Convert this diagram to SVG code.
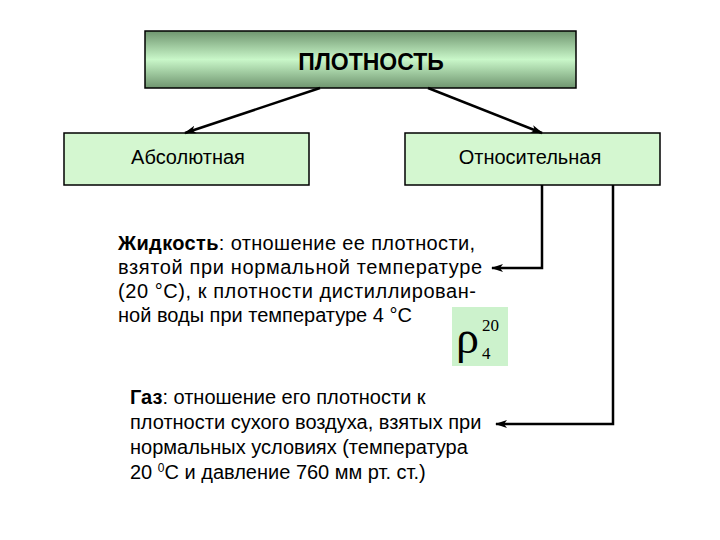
<svg xmlns="http://www.w3.org/2000/svg" width="720" height="540" viewBox="0 0 720 540">
<defs>
<linearGradient id="g" x1="0" y1="0" x2="0" y2="1">
<stop offset="0" stop-color="#6f956f"/>
<stop offset="0.5" stop-color="#c9f7c9"/>
<stop offset="1" stop-color="#6f956f"/>
</linearGradient>
<marker id="ah" markerUnits="userSpaceOnUse" markerWidth="12" markerHeight="10" refX="11" refY="5" orient="auto">
<path d="M0,1 L12,5 L0,9 L3,5 Z" fill="#000"/>
</marker>
<style>
.box{fill:#d4f7d0;stroke:#000;stroke-width:1.5}
.t{font-family:"Liberation Sans",Arial,sans-serif;fill:#000}
.c{fill:none;stroke:#000;stroke-width:2.5}
</style>
</defs>
<rect width="720" height="540" fill="#fff"/>
<g id="top">
<rect x="145" y="31" width="431" height="57" fill="url(#g)" stroke="#000" stroke-width="1.5"/>
<text class="t" x="371" y="70" font-size="23" font-weight="bold" text-anchor="middle">ПЛОТНОСТЬ</text>
</g>
<g id="abs">
<rect class="box" x="64" y="133" width="245" height="52"/>
<text class="t" x="188" y="164" font-size="20" text-anchor="middle">Абсолютная</text>
</g>
<g id="rel">
<rect class="box" x="405" y="133" width="255" height="52"/>
<text class="t" x="530" y="164" font-size="20" text-anchor="middle">Относительная</text>
</g>
<g id="liquid">
<text class="t" font-size="20">
<tspan x="118" y="250" textLength="357"><tspan font-weight="bold">Жидкость</tspan>: отношение ее плотности,</tspan>
<tspan x="118" y="274" textLength="364">взятой при нормальной температуре</tspan>
<tspan x="118" y="298" textLength="358">(20  °С), к плотности дистиллирован-</tspan>
<tspan x="118" y="322">ной воды при температуре 4 °С</tspan>
</text>
</g>
<g id="rho">
<rect x="452" y="307" width="56" height="59" fill="#ccf2cc"/>
<text x="456" y="353" font-family="Liberation Serif,serif" font-size="46">ρ</text>
<text x="482" y="331" font-family="Liberation Serif,serif" font-size="17">20</text>
<text x="482" y="359" font-family="Liberation Serif,serif" font-size="17">4</text>
</g>
<g id="gas">
<text class="t" font-size="20">
<tspan x="130" y="404"><tspan font-weight="bold">Газ</tspan>: отношение его плотности к</tspan>
<tspan x="130" y="429">плотности сухого воздуха, взятых при</tspan>
<tspan x="130" y="454">нормальных условиях (температура</tspan>
<tspan x="130" y="479">20 <tspan font-size="12" dy="-7">0</tspan><tspan dy="7">С и давление 760 мм рт. ст.)</tspan></tspan>
</text>
</g>
<g id="connectors">
<line class="c" x1="320" y1="88" x2="185" y2="133" marker-end="url(#ah)"/>
<line class="c" x1="428" y1="88" x2="542" y2="133" marker-end="url(#ah)"/>
<polyline class="c" points="542,185 542,268 492,268" marker-end="url(#ah)"/>
<polyline class="c" points="613,185 613,424 496,424" marker-end="url(#ah)"/>
</g>
</svg>
